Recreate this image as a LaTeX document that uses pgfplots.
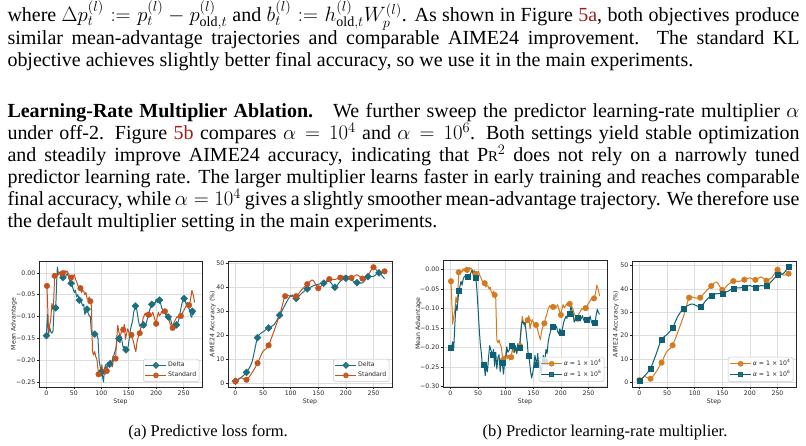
\documentclass[border=0pt]{standalone}
\usepackage{fontspec}
\setmainfont{Liberation Serif}
\newfontfamily\plotfont{DejaVu Sans}
\usepackage{pgfplots}
\pgfplotsset{compat=1.18}
\usepackage{pgfplotstable}
\definecolor{cdelta}{HTML}{1D6E7E}
\definecolor{cstd}{HTML}{C4521C}
\definecolor{cafour}{HTML}{D67A1E}
\definecolor{casix}{HTML}{0E6175}
\definecolor{linkred}{rgb}{0.62,0.12,0.12}
\newcommand\bodyfont{\fontsize{20}{22}\selectfont}
\newcommand\pf{\plotfont\fontsize{6.2}{7}\selectfont}

% ---------- Mean advantage: Delta ----------
\pgfplotstableread{
x y
0 -0.1435
2 -0.095
4 -0.14
6 -0.125
8 -0.135
10 -0.138
12 -0.133
14 -0.082
17 -0.080
19 -0.010
20 0.013
22 -0.003
24 0.000
26 -0.006
28 -0.003
30 -0.011
32 -0.004
34 -0.012
36 -0.006
38 -0.002
40 -0.008
42 -0.016
45 -0.024
47 -0.030
49 -0.038
51 -0.045
53 -0.040
55 -0.055
57 -0.050
60 -0.0625
62 -0.060
64 -0.068
66 -0.075
68 -0.072
70 -0.095
72 -0.090
74 -0.083
76 -0.092
78 -0.098
80 -0.100
82 -0.136
85 -0.138
88 -0.140
90 -0.141
92 -0.143
94 -0.150
96 -0.200
98 -0.215
100 -0.228
102 -0.235
104 -0.250
106 -0.218
108 -0.210
110 -0.228
112 -0.205
115 -0.209
117 -0.200
119 -0.212
121 -0.192
123 -0.188
125 -0.180
127 -0.170
129 -0.152
132 -0.150
134 -0.160
136 -0.145
138 -0.158
140 -0.172
142 -0.168
145 -0.176
147 -0.178
149 -0.168
151 -0.150
153 -0.130
155 -0.120
157 -0.110
159 -0.090
162 -0.076
164 -0.080
166 -0.095
168 -0.112
170 -0.122
172 -0.118
174 -0.125
177 -0.119
179 -0.125
181 -0.118
183 -0.110
185 -0.100
187 -0.090
189 -0.082
192 -0.072
194 -0.075
196 -0.068
198 -0.070
200 -0.060
202 -0.068
204 -0.064
206 -0.0625
208 -0.070
210 -0.080
212 -0.085
214 -0.092
216 -0.090
218 -0.098
220 -0.095
222 -0.101
224 -0.108
226 -0.105
228 -0.115
230 -0.122
232 -0.118
234 -0.125
237 -0.119
239 -0.115
241 -0.108
243 -0.095
245 -0.082
247 -0.070
249 -0.062
251 -0.0586
253 -0.062
255 -0.075
257 -0.068
259 -0.080
261 -0.085
263 -0.098
265 -0.102
266 -0.088
268 -0.095
270 -0.090
}\deltaadv
\pgfplotstableread{
x y
0 -0.1435
17 -0.080
30 -0.011
45 -0.024
60 -0.0625
74 -0.083
88 -0.140
100 -0.228
115 -0.209
132 -0.150
145 -0.176
162 -0.076
177 -0.119
192 -0.072
206 -0.0625
222 -0.101
237 -0.119
251 -0.0586
266 -0.088
}\deltaadvm

% ---------- Mean advantage: Standard (= alpha 1e4) ----------
\pgfplotstableread{
x y
0 -0.030
1 -0.030
3 -0.100
4 -0.140
6 -0.120
8 -0.105
10 -0.070
12 -0.085
13 -0.072
15 -0.007
17 -0.008
19 -0.003
21 -0.006
23 0.002
25 -0.003
27 0.004
30 -0.001
32 0.002
34 0.005
36 0.001
38 0.004
40 -0.002
42 -0.006
45 -0.011
47 -0.005
49 -0.008
51 -0.004
53 -0.015
55 -0.020
57 -0.028
60 -0.035
62 -0.035
64 -0.045
66 -0.040
68 -0.042
70 -0.050
72 -0.045
74 -0.058
76 -0.062
78 -0.055
80 -0.065
82 -0.075
84 -0.180
86 -0.188
88 -0.180
90 -0.192
92 -0.198
95 -0.232
97 -0.222
99 -0.225
101 -0.210
103 -0.228
105 -0.220
107 -0.232
110 -0.2245
112 -0.205
114 -0.212
116 -0.200
118 -0.205
120 -0.215
122 -0.200
124 -0.198
126 -0.196
128 -0.152
130 -0.120
132 -0.135
134 -0.145
136 -0.138
138 -0.125
140 -0.130
142 -0.118
144 -0.152
146 -0.140
148 -0.128
150 -0.135
152 -0.145
155 -0.142
157 -0.150
159 -0.160
161 -0.172
163 -0.180
165 -0.158
167 -0.148
170 -0.138
172 -0.125
174 -0.118
176 -0.105
178 -0.098
180 -0.092
182 -0.098
184 -0.090
186 -0.096
188 -0.092
190 -0.100
192 -0.095
194 -0.090
196 -0.100
198 -0.108
200 -0.1164
202 -0.100
204 -0.090
206 -0.098
208 -0.095
210 -0.088
212 -0.092
214 -0.085
216 -0.088
218 -0.092
220 -0.095
222 -0.102
224 -0.112
226 -0.118
228 -0.122
230 -0.126
232 -0.115
234 -0.110
236 -0.105
238 -0.100
240 -0.102
242 -0.095
245 -0.0988
247 -0.095
249 -0.088
251 -0.085
253 -0.080
255 -0.075
257 -0.078
260 -0.074
262 -0.065
264 -0.050
265 -0.040
267 -0.048
269 -0.060
270 -0.068
}\stdadv
\pgfplotstableread{
x y
1 -0.030
15 -0.007
30 -0.001
45 -0.011
62 -0.035
80 -0.065
95 -0.232
110 -0.2245
126 -0.196
140 -0.130
155 -0.142
170 -0.138
186 -0.096
200 -0.1164
216 -0.088
230 -0.126
245 -0.0988
260 -0.074
}\stdadvm

% ---------- Mean advantage: alpha 1e6 ----------
\pgfplotstableread{
x y
0 -0.2015
2 -0.200
4 -0.185
6 -0.200
8 -0.140
10 -0.090
12 -0.105
15 -0.055
17 -0.045
19 -0.030
21 -0.040
23 -0.025
25 -0.018
28 -0.015
31 -0.019
33 -0.025
35 -0.018
37 -0.008
39 -0.002
41 -0.012
43 -0.003
46 -0.0215
48 -0.055
50 -0.100
52 -0.150
54 -0.190
56 -0.215
58 -0.250
61 -0.2435
63 -0.272
65 -0.245
67 -0.262
69 -0.225
71 -0.195
73 -0.205
76 -0.2185
78 -0.205
80 -0.248
82 -0.212
84 -0.255
86 -0.225
88 -0.218
90 -0.262
92 -0.235
94 -0.239
96 -0.268
98 -0.240
100 -0.232
102 -0.198
104 -0.212
107 -0.205
110 -0.1946
112 -0.205
114 -0.190
116 -0.212
118 -0.195
120 -0.215
122 -0.190
125 -0.2005
127 -0.165
129 -0.138
131 -0.132
133 -0.140
135 -0.135
137 -0.160
139 -0.185
141 -0.222
143 -0.232
145 -0.260
147 -0.278
149 -0.265
151 -0.245
153 -0.220
156 -0.245
158 -0.215
160 -0.250
162 -0.235
164 -0.265
166 -0.248
168 -0.220
171 -0.235
173 -0.205
175 -0.215
177 -0.185
179 -0.170
181 -0.160
183 -0.150
186 -0.1475
188 -0.142
190 -0.150
192 -0.145
194 -0.158
196 -0.165
198 -0.152
201 -0.163
203 -0.150
205 -0.135
207 -0.128
209 -0.120
211 -0.125
213 -0.108
216 -0.113
218 -0.095
220 -0.105
222 -0.112
224 -0.135
226 -0.128
228 -0.118
231 -0.1245
233 -0.122
235 -0.132
237 -0.125
239 -0.118
241 -0.128
243 -0.135
245 -0.125
247 -0.1285
249 -0.135
251 -0.125
253 -0.120
255 -0.132
257 -0.140
259 -0.135
262 -0.137
264 -0.115
266 -0.102
268 -0.110
270 -0.115
}\sixadv
\pgfplotstableread{
x y
0 -0.2015
15 -0.055
31 -0.019
46 -0.0215
61 -0.2435
76 -0.2185
94 -0.239
110 -0.1946
125 -0.2005
141 -0.222
156 -0.245
171 -0.235
186 -0.1475
201 -0.163
216 -0.113
231 -0.1245
247 -0.1285
262 -0.137
}\sixadvm

% ---------- Accuracy ----------
\pgfplotstableread{
x y
0 1.0
10 2.5
20 4.7
30 9.0
40 19.1
50 21.5
60 23.1
70 24.5
80 28.4
100 36.6
110 35.4
120 37.5
130 39.3
145 41.0
160 41.7
170 42.5
180 40.0
190 42.5
200 43.75
210 43.0
220 41.9
230 41.8
240 44.4
250 44.5
260 46.0
270 43.5
}\deltaacc
\pgfplotstableread{
x y
0 1.0
20 4.7
40 19.1
60 23.1
80 28.4
110 35.4
130 39.3
160 41.7
180 40.0
200 43.75
220 41.9
240 44.4
260 46.0
}\deltaaccm
\pgfplotstableread{
x y
0 1.0
10 2.5
20 1.6
30 4.5
40 8.5
50 13.5
60 15.9
80 28.5
90 36.3
100 36.2
110 36.3
120 39.0
130 41.3
140 43.0
150 39.6
160 41.8
170 43.4
180 43.2
190 44.0
200 44.8
210 43.9
220 45.2
230 43.6
240 45.0
250 48.3
260 46.0
270 46.6
}\stdacc
\pgfplotstableread{
x y
0 1.0
20 1.6
40 8.5
60 15.9
90 36.3
110 36.3
130 41.3
150 39.6
170 43.4
190 44.0
210 43.9
230 43.6
250 48.3
270 46.6
}\stdaccm
\pgfplotstableread{
x y
0 0.6
10 3.0
20 6.0
30 12.0
40 18.5
50 20.5
60 23.5
70 28.5
80 31.7
95 33.6
110 32.3
120 35.0
130 37.3
140 38.0
150 38.2
160 39.0
170 40.3
180 40.5
190 40.7
200 41.5
210 40.6
220 41.5
230 41.3
240 43.5
250 46.0
260 46.5
270 49.5
}\sixacc
\pgfplotstableread{
x y
0 0.6
20 6.0
40 18.5
60 23.5
80 31.7
110 32.3
130 37.3
150 38.2
170 40.3
190 40.7
210 40.6
230 41.3
250 46.0
270 49.5
}\sixaccm

\pgfplotsset{
  common/.style={
    scale only axis, anchor=south west,
    xmin=-13.5, xmax=283.5,
    xtick={0,50,100,150,200,250},
    xticklabels={0,50,100,150,200,250},
    axis line style={black!85, line width=0.9pt},
    grid=major, grid style={black!13, line width=0.6pt},
    tick align=outside, major tick length=2.4pt,
    major tick style={black!85, line width=0.6pt},
    xtick pos=bottom, ytick pos=left,
    tick label style={font=\pf, text=black!85, inner sep=1.2pt},
    label style={font=\pf, text=black!85, inner sep=0pt},
    xlabel={Step},
    xlabel style={at={(axis description cs:0.5,-0.117)}, anchor=center},
    ylabel style={anchor=center},
    legend cell align=left,
    legend style={at={(1,0)}, anchor=south east, xshift=-2.7pt, yshift=5.3pt,
      draw=black!22, line width=0.5pt, rounded corners=1.5pt, fill=white,
      fill opacity=0.8, draw opacity=1, text opacity=1,
      inner xsep=1.5pt, inner ysep=1pt, row sep=0pt,
      font=\pf, text=black!85, nodes={inner sep=1.2pt}},
    legend image code/.code={\draw[mark repeat=2,mark phase=2,##1] plot coordinates {(0pt,0pt) (10.5pt,0pt) (21pt,0pt)};},
  },
  advax/.style={common, ymin=-0.261, ymax=0.027,
    ytick={-0.25,-0.2,-0.15,-0.1,-0.05,0},
    yticklabels={−0.25,−0.20,−0.15,−0.10,−0.05,0.00},
    ylabel={Mean Advantage}},
  accax/.style={common,
    ytick={0,10,20,30,40,50}, yticklabels={0,10,20,30,40,50},
    ylabel={AIME24 Accuracy (\%)}},
  ln/.style={line width=1.0pt, line join=round, mark=none},
  dmk/.style={only marks, mark=square*, mark size=2.45pt, mark options={rotate=45, fill=#1, draw=#1}},
  cmk/.style={only marks, mark=*, mark size=2.8pt, mark options={fill=#1, draw=#1}},
  smk/.style={only marks, mark=square*, mark size=2.5pt, mark options={fill=#1, draw=#1}},
}

\begin{document}
\begin{tikzpicture}[x=1pt,y=1pt]
\useasboundingbox (0,0) rectangle (806,445);

% ---------- body text ----------
\bodyfont
\node[anchor=base west, inner sep=0] at (7.3,423) {\hbox to 792pt{where $\Delta p_t^{(l)} := p_t^{(l)} - p_{\mathrm{old},t}^{(l)}$ and $b_t^{(l)} := h_{\mathrm{old},t}^{(l)} W_p^{(l)}$. As shown in Figure \textcolor{linkred}{5a}, both objectives produce}};
\node[anchor=base west, inner sep=0] at (7.3,400) {\hbox to 792pt{similar mean-advantage trajectories and comparable AIME24 improvement. The standard KL}};
\node[anchor=base west, inner sep=0] at (7.3,378) {objective achieves slightly better final accuracy, so we use it in the main experiments.};
\node[anchor=base west, inner sep=0] at (7.3,327) {\hbox to 792pt{\textbf{Learning-Rate Multiplier Ablation.}\hskip 1em We further sweep the predictor learning-rate multiplier $\alpha$}};
\node[anchor=base west, inner sep=0] at (7.3,305.1) {\hbox to 792pt{under off-2. Figure \textcolor{linkred}{5b} compares $\alpha = 10^4$ and $\alpha = 10^6$. Both settings yield stable optimization}};
\node[anchor=base west, inner sep=0] at (7.3,283.2) {\hbox to 792pt{and steadily improve AIME24 accuracy, indicating that P{\fontsize{14.8}{15}\selectfont R}$^2$ does not rely on a narrowly tuned}};
\node[anchor=base west, inner sep=0] at (7.3,261.3) {\hbox to 792pt{predictor learning rate. The larger multiplier learns faster in early training and reaches comparable}};
\node[anchor=base west, inner sep=0] at (7.3,239.4) {\hbox to 792pt{final accuracy, while $\alpha = 10^4$ gives a slightly smoother mean-advantage trajectory. We therefore use}};
\node[anchor=base west, inner sep=0] at (7.3,217.5) {the default multiplier setting in the main experiments.};

% ---------- captions ----------
\node[anchor=base, inner sep=0] at (208,9) {\fontsize{16.5}{19}\selectfont (a) Predictive loss form.};
\node[anchor=base, inner sep=0] at (605,9) {\fontsize{16.5}{19}\selectfont (b) Predictor learning-rate multiplier.};

% ---------- panel 1 ----------
\begin{axis}[advax, at={(39pt,58pt)}, width=163pt, height=126pt,
  ylabel style={at={(axis description cs:-0.1534,0.5)}}]
\addplot[ln, cdelta, forget plot] table {\deltaadv};
\addplot[dmk=cdelta, forget plot] table {\deltaadvm};
\addplot[ln, cstd, forget plot] table {\stdadv};
\addplot[cmk=cstd, forget plot] table {\stdadvm};
\addlegendimage{cdelta, line width=1.0pt, mark=square*, mark size=2.0pt, mark options={rotate=45, fill=cdelta, draw=cdelta}}
\addlegendentry{Delta}
\addlegendimage{cstd, line width=1.0pt, mark=*, mark size=2.3pt, mark options={fill=cstd, draw=cstd}}
\addlegendentry{Standard}
\end{axis}

% ---------- panel 2 ----------
\begin{axis}[accax, at={(228pt,58pt)}, width=164pt, height=126pt,
  ymin=-1.4, ymax=50.9,
  ylabel style={at={(axis description cs:-0.0933,0.5)}}]
\addplot[ln, cdelta, smooth, forget plot] table {\deltaacc};
\addplot[dmk=cdelta, forget plot] table {\deltaaccm};
\addplot[ln, cstd, smooth, forget plot] table {\stdacc};
\addplot[cmk=cstd, forget plot] table {\stdaccm};
\addlegendimage{cdelta, line width=1.0pt, mark=square*, mark size=2.0pt, mark options={rotate=45, fill=cdelta, draw=cdelta}}
\addlegendentry{Delta}
\addlegendimage{cstd, line width=1.0pt, mark=*, mark size=2.3pt, mark options={fill=cstd, draw=cstd}}
\addlegendentry{Standard}
\end{axis}

% ---------- panel 3 ----------
\begin{axis}[common, at={(443pt,58pt)}, width=164pt, height=127pt,
  ymin=-0.301, ymax=0.0245,
  ytick={-0.3,-0.25,-0.2,-0.15,-0.1,-0.05,0},
  yticklabels={−0.30,−0.25,−0.20,−0.15,−0.10,−0.05,0.00},
  ylabel={Mean Advantage},
  xlabel style={at={(axis description cs:0.5,-0.1157)}},
  ylabel style={at={(axis description cs:-0.1506,0.5)}}]
\addplot[ln, cafour, forget plot] table {\stdadv};
\addplot[cmk=cafour, forget plot] table {\stdadvm};
\addplot[ln, casix, forget plot] table {\sixadv};
\addplot[smk=casix, forget plot] table {\sixadvm};
\addlegendimage{cafour, line width=1.0pt, mark=*, mark size=2.3pt, mark options={fill=cafour, draw=cafour}}
\addlegendentry{\textit{α} = 1 × 10\textsuperscript{4}}
\addlegendimage{casix, line width=1.0pt, mark=square*, mark size=2.1pt, mark options={fill=casix, draw=casix}}
\addlegendentry{\textit{α} = 1 × 10\textsuperscript{6}}
\end{axis}

% ---------- panel 4 ----------
\begin{axis}[accax, at={(632pt,58pt)}, width=164pt, height=126pt,
  ymin=-1.95, ymax=52,
  ylabel style={at={(axis description cs:-0.0976,0.5)}}]
\addplot[ln, cafour, smooth, forget plot] table {\stdacc};
\addplot[cmk=cafour, forget plot] table {\stdaccm};
\addplot[ln, casix, smooth, forget plot] table {\sixacc};
\addplot[smk=casix, forget plot] table {\sixaccm};
\addlegendimage{cafour, line width=1.0pt, mark=*, mark size=2.3pt, mark options={fill=cafour, draw=cafour}}
\addlegendentry{\textit{α} = 1 × 10\textsuperscript{4}}
\addlegendimage{casix, line width=1.0pt, mark=square*, mark size=2.1pt, mark options={fill=casix, draw=casix}}
\addlegendentry{\textit{α} = 1 × 10\textsuperscript{6}}
\end{axis}
\end{tikzpicture}
\end{document}
